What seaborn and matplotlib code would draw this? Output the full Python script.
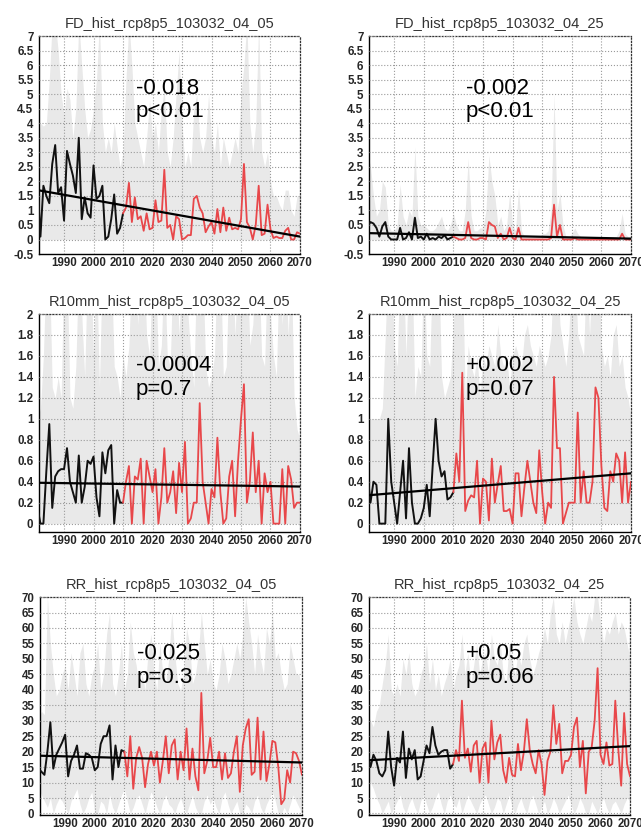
import numpy as np
import matplotlib
matplotlib.use("Agg")
import matplotlib.pyplot as plt
import seaborn as sns

# ----------------------------------------------------------
# DATA
# ----------------------------------------------------------

hist_years = list(range(1981, 2011))
proj_years = list(range(2011, 2071))
all_years = list(range(1981, 2071))

# FD 04_05
fd05_hist = [2.0, 0.1, 1.85, 1.5, 1.25, 2.6, 3.25, 1.6, 1.8, 0.65,
             3.05, 2.6, 2.2, 1.6, 3.5, 0.7, 1.45, 0.9, 0.75, 2.55,
             1.4, 1.5, 1.85, 0.0, 0.1, 0.7, 1.55, 0.2, 0.4, 0.9]
fd05_proj = [1.1, 1.95, 0.6, 1.45, 0.7, 0.8, 0.3, 0.9, 0.35, 0.4,
             1.35, 0.6, 0.65, 2.4, 0.4, 0.5, 0.0, 0.8, 0.7, 0.0,
             0.05, 0.15, 0.15, 1.4, 1.5, 1.1, 0.9, 0.25, 0.45, 0.6,
             0.2, 1.05, 0.25, 1.1, 0.3, 0.75, 0.35, 0.4, 0.35, 0.7,
             2.6, 0.6, 0.4, 0.0, 0.5, 1.85, 0.15, 0.2, 1.2, 0.35,
             0.05, 0.1, 0.05, 0.05, 0.3, 0.4, 0.0, 0.0, 0.25, 0.2]
fd05_hi = [2.2, 4.0, 3.9, 4.0, 5.5, 7.5, 7.5, 6.5, 5.0, 4.3,
           5.2, 4.8, 3.5, 4.5, 7.5, 6.0, 4.5, 3.5, 3.8, 4.5,
           5.5, 7.5, 4.0, 3.0, 3.5, 3.0, 4.0, 3.2, 2.5, 3.0,
           5.5, 7.5, 6.0, 4.0, 3.5, 3.0, 2.5, 3.5, 4.8, 3.5,
           4.0, 3.0, 4.5, 5.2, 3.0, 2.5, 3.5, 5.0, 6.5, 4.0,
           2.5, 3.0, 2.5, 4.5, 5.0, 3.5, 3.0, 3.5, 5.0, 3.5,
           3.0, 4.0, 2.5, 3.5, 3.0, 2.5, 3.0, 3.5, 3.0, 5.0,
           6.0, 7.5, 4.0, 3.0, 4.0, 7.5, 3.0, 2.5, 3.0, 2.0,
           1.5, 1.5, 1.2, 1.0, 1.7, 1.7, 1.0, 0.8, 1.5, 1.5]
fd05_lo = [0.0] * 90
fd05_trend = [1.70, 0.10]

# FD 04_25
fd25_hist = [0.45, 0.6, 0.55, 0.4, 0.1, 0.45, 0.6, 0.1, 0.0, 0.0,
             0.0, 0.4, 0.0, 0.05, 0.25, 0.0, 0.75, 0.05, 0.1, 0.0,
             0.2, 0.0, 0.05, 0.0, 0.1, 0.05, 0.15, 0.0, 0.05, 0.1]
fd25_proj = [0.05, 0.0, 0.0, 0.05, 0.6, 0.05, 0.0, 0.0, 0.05, 0.05,
             0.0, 0.6, 0.5, 0.45, 0.05, 0.2, 0.0, 0.05, 0.4, 0.05,
             0.0, 0.4, 0.0, 0.0, 0.0, 0.0, 0.0, 0.0, 0.0, 0.0,
             0.0, 0.0, 0.05, 1.2, 0.1, 0.5, 0.0, 0.0, 0.0, 0.0,
             0.05, 0.0, 0.0, 0.0, 0.0, 0.0, 0.0, 0.0, 0.0, 0.0,
             0.0, 0.0, 0.0, 0.0, 0.0, 0.0, 0.2, 0.0, 0.0, 0.0]
fd25_hi = [3.0, 2.5, 1.5, 0.8, 1.0, 2.0, 1.8, 0.5, 0.3, 0.3,
           0.5, 1.9, 0.8, 0.5, 1.0, 0.8, 3.2, 0.8, 0.5, 0.5,
           0.4, 0.3, 0.3, 0.4, 0.6, 0.8, 0.4, 0.3, 0.5, 0.9,
           0.5, 0.3, 0.3, 1.0, 2.8, 0.8, 0.3, 0.3, 0.4, 0.4,
           1.0, 2.9, 2.0, 1.5, 0.5, 0.8, 0.3, 0.5, 1.6, 0.5,
           0.3, 1.8, 0.3, 0.1, 0.1, 0.1, 0.1, 0.1, 0.1, 0.2,
           0.2, 0.3, 1.0, 5.0, 1.0, 1.6, 0.5, 0.1, 0.1, 0.2,
           0.4, 0.2, 0.1, 0.1, 0.1, 0.1, 0.1, 0.1, 0.1, 0.1,
           0.1, 0.1, 0.1, 0.1, 0.1, 0.3, 0.9, 0.2, 0.1, 0.1]
fd25_lo = [0.0] * 90
fd25_trend = [0.22, 0.03]

# R10mm 04_05
r10_05_hist = [0.15, 0.0, 0.0, 0.5, 0.95, 0.15, 0.45, 0.5, 0.52, 0.52,
               0.72, 0.4, 0.3, 0.2, 0.65, 0.2, 0.35, 0.6, 0.57, 0.64,
               0.25, 0.07, 0.68, 0.48, 0.7, 0.75, 0.0, 0.32, 0.2, 0.2]
r10_05_proj = [0.4, 0.55, 0.0, 0.45, 0.42, 0.62, 0.0, 0.6, 0.45, 0.3,
               0.52, 0.0, 0.25, 0.72, 0.2, 0.3, 0.5, 0.1, 0.58, 0.3,
               0.78, 0.0, 0.05, 0.2, 0.2, 1.15, 0.4, 0.2, 0.0, 0.33,
               0.25, 0.82, 0.3, 0.0, 0.05, 0.45, 0.6, 0.07, 0.6, 1.0,
               1.33, 0.2, 0.4, 0.87, 0.3, 0.6, 0.0, 0.48, 0.3, 0.4,
               0.0, 0.0, 0.0, 0.52, 0.0, 0.55, 0.42, 0.15, 0.2, 0.2]
r10_05_hi = [1.0, 1.1, 1.6, 2.5, 2.5, 1.3, 1.2, 1.4, 1.2, 2.5,
             2.5, 1.2, 1.1, 1.5, 2.5, 2.0, 1.4, 2.5, 2.5, 1.6,
             2.5, 1.3, 2.5, 2.5, 2.5, 2.5, 1.5, 1.4, 1.2, 1.6,
             1.4, 1.7, 2.5, 2.5, 1.9, 2.5, 2.5, 1.8, 1.6, 2.5,
             2.5, 1.5, 1.7, 2.5, 1.6, 1.5, 2.5, 2.5, 1.8, 2.5,
             2.5, 2.0, 1.6, 1.3, 2.5, 2.5, 2.5, 1.5, 1.3, 1.4,
             1.6, 2.5, 2.5, 1.4, 1.5, 2.5, 2.5, 1.8, 2.5, 2.5,
             2.5, 2.5, 1.7, 1.9, 2.5, 2.5, 1.6, 1.5, 2.5, 2.0,
             1.6, 1.4, 2.5, 1.9, 2.5, 1.8, 2.5, 1.2, 0.9, 0.8]
r10_05_lo = [0.0] * 90
r10_05_trend = [0.39, 0.354]

# R10mm 04_25
r10_25_hist = [0.47, 0.2, 0.4, 0.37, 0.0, 0.0, 0.0, 1.0, 0.4, 0.2,
               0.0, 0.3, 0.6, 0.05, 0.72, 0.2, 0.0, 0.0, 0.05, 0.15,
               0.37, 0.07, 0.55, 1.0, 0.6, 0.45, 0.5, 0.23, 0.25, 0.3]
r10_25_proj = [0.67, 0.4, 1.44, 0.12, 0.22, 0.27, 0.25, 0.6, 0.0, 0.43,
               0.4, 0.03, 0.62, 0.2, 0.38, 0.55, 0.12, 0.12, 0.14, 0.0,
               0.48, 0.48, 0.07, 0.35, 0.6, 0.4, 0.2, 0.1, 0.7, 0.3,
               0.0, 0.2, 0.15, 1.4, 0.72, 0.72, 0.0, 0.1, 0.2, 0.2,
               0.2, 1.06, 0.2, 0.5, 0.2, 0.2, 0.4, 1.3, 1.2, 0.55,
               0.15, 0.12, 0.5, 0.4, 0.67, 0.6, 0.2, 0.68, 0.2, 0.4]
r10_25_hi = [1.0, 1.0, 1.0, 1.0, 1.0, 1.1, 1.8, 2.5, 2.5, 1.7,
             1.5, 2.5, 2.5, 1.6, 2.5, 2.5, 1.2, 1.5, 1.4, 2.5,
             1.6, 1.5, 2.5, 2.5, 2.5, 1.4, 1.2, 1.3, 1.4, 1.9,
             2.5, 2.5, 2.5, 1.2, 1.7, 1.5, 1.4, 1.6, 1.2, 1.6,
             1.5, 1.7, 1.6, 1.5, 1.9, 1.6, 1.5, 1.6, 1.3, 1.6,
             1.7, 1.6, 1.5, 1.8, 1.9, 1.7, 1.6, 1.5, 1.7, 1.6,
             1.5, 1.6, 1.8, 2.5, 2.5, 1.9, 1.7, 1.5, 1.8, 2.5,
             2.5, 1.8, 1.7, 1.6, 2.5, 1.8, 2.5, 2.5, 2.5, 1.7,
             1.5, 1.6, 1.4, 1.8, 1.9, 1.5, 1.6, 1.3, 1.2, 1.0]
r10_25_lo = [0.0] * 90
r10_25_trend = [0.27, 0.48]

# RR 04_05
rr05_hist = [14.5, 13.5, 12.5, 20, 29.5, 14.5, 19, 21, 23, 25.5,
             12, 17, 19, 22, 14.5, 14.5, 19.5, 19, 18, 14,
             15, 22.5, 25, 25, 28.5, 11, 22, 15, 20.5, 20]
rr05_proj = [12, 25, 8, 18, 21.5, 18, 8.5, 16, 20, 15.5,
             20, 10, 17, 25, 13, 22, 24, 11, 20, 14,
             27.5, 11, 21, 12, 7.5, 39, 13, 17, 24.5, 15,
             15, 20, 11, 19.5, 11.5, 13, 20, 25, 7, 22,
             27.5, 30.5, 12.5, 13.5, 31, 11, 26.5, 10.5, 16, 23.5,
             23, 15, 3, 4.5, 14, 10, 20, 19.5, 17, 12.5]
rr05_hi = [31, 33, 32, 70, 55, 45, 38, 40, 45, 48,
           40, 52, 45, 38, 52, 55, 42, 38, 45, 48,
           55, 40, 45, 58, 65, 42, 38, 45, 55, 40,
           45, 62, 52, 48, 40, 45, 40, 52, 58, 45,
           40, 55, 45, 42, 50, 65, 52, 42, 40, 45,
           60, 55, 42, 45, 52, 65, 55, 45, 50, 42,
           40, 45, 55, 50, 42, 45, 50, 55, 50, 58,
           70, 62, 55, 45, 58, 50, 45, 60, 55, 65,
           50, 52, 45, 40, 42, 55, 50, 45, 45, 40]
rr05_lo = [8, 6, 4, 2, 5, 0, 3, 5, 4, 2,
           0, 4, 6, 8, 3, 0, 2, 5, 7, 0,
           0, 4, 3, 0, 6, 2, 0, 3, 6, 8,
           4, 0, 2, 5, 6, 3, 0, 4, 7, 5,
           2, 0, 4, 6, 3, 2, 0, 3, 5, 2,
           0, 3, 6, 2, 0, 0, 4, 6, 3, 5,
           2, 0, 5, 7, 3, 0, 2, 4, 0, 0,
           3, 2, 0, 4, 6, 2, 0, 3, 5, 7,
           4, 0, 0, 2, 0, 3, 6, 4, 2, 0]
rr05_trend = [18.7, 16.5]

# RR 04_25
rr25_hist = [19.5, 15, 19, 17, 13, 12, 14, 26.5, 15, 9,
             18, 16.5, 26.5, 11.5, 21, 17.5, 20.5, 11, 12, 17,
             22, 19.5, 28, 22, 19, 20, 20.5, 20.5, 14.5, 16]
rr25_proj = [20.5, 17, 36.5, 18, 21, 13.5, 22, 23.5, 10, 21,
             23, 10, 30, 17.5, 23, 25.5, 14, 10, 18, 12.5,
             12, 22.5, 14, 20, 30.5, 20.5, 16, 13, 20.5, 16,
             6, 17, 20, 35, 22.5, 29, 13, 17, 17, 19,
             28, 31, 15, 23.5, 6.5, 20, 21.5, 30, 47, 19,
             16, 23, 15.5, 16, 36.5, 21, 9, 32.5, 16, 12]
rr25_hi = [32, 30, 28, 33, 35, 42, 48, 58, 40, 38,
           42, 38, 50, 45, 52, 42, 38, 40, 45, 48,
           55, 42, 50, 40, 45, 38, 42, 45, 50, 40,
           45, 48, 58, 45, 52, 42, 48, 55, 45, 50,
           52, 45, 58, 50, 48, 55, 45, 42, 55, 50,
           45, 52, 48, 55, 58, 50, 45, 48, 52, 55,
           60, 55, 65, 70, 58, 55, 62, 55, 60, 65,
           70, 62, 58, 55, 60, 65, 62, 70, 70, 62,
           55, 60, 58, 62, 65, 58, 62, 60, 55, 50]
rr25_lo = [12, 10, 8, 5, 3, 0, 2, 4, 0, 2,
           4, 6, 2, 0, 3, 5, 2, 0, 4, 6,
           3, 0, 2, 5, 7, 3, 0, 4, 6, 3,
           2, 5, 0, 3, 6, 4, 2, 0, 3, 5,
           6, 3, 0, 2, 5, 4, 0, 3, 6, 2,
           0, 3, 5, 2, 0, 4, 6, 3, 0, 2,
           4, 0, 2, 5, 3, 0, 2, 4, 6, 3,
           0, 2, 5, 3, 0, 0, 4, 2, 0, 3,
           5, 2, 0, 3, 4, 2, 0, 3, 5, 4]
rr25_trend = [17.2, 21.8]

titles = ["FD_hist_rcp8p5_103032_04_05", "FD_hist_rcp8p5_103032_04_25",
          "R10mm_hist_rcp8p5_103032_04_05", "R10mm_hist_rcp8p5_103032_04_25",
          "RR_hist_rcp8p5_103032_04_05", "RR_hist_rcp8p5_103032_04_25"]
slope_labels = ["-0.018\np<0.01", "-0.002\np<0.01",
                "-0.0004\np=0.7", "+0.002\np=0.07",
                "-0.025\np=0.3", "+0.05\np=0.06"]

# ----------------------------------------------------------
# STYLE
# ----------------------------------------------------------

sns.set_style("white")
plt.rcParams['font.family'] = ['Liberation Sans', 'DejaVu Sans']

panels = [
    (fd05_hist, fd05_proj, fd05_lo, fd05_hi, fd05_trend),
    (fd25_hist, fd25_proj, fd25_lo, fd25_hi, fd25_trend),
    (r10_05_hist, r10_05_proj, r10_05_lo, r10_05_hi, r10_05_trend),
    (r10_25_hist, r10_25_proj, r10_25_lo, r10_25_hi, r10_25_trend),
    (rr05_hist, rr05_proj, rr05_lo, rr05_hi, rr05_trend),
    (rr25_hist, rr25_proj, rr25_lo, rr25_hi, rr25_trend),
]

ylims = [(-0.5, 7), (-0.5, 7), (-0.08, 2), (-0.08, 2), (-0.5, 70), (-0.5, 70)]
yticks = [np.arange(-0.5, 7.01, 0.5), np.arange(-0.5, 7.01, 0.5),
          np.arange(0, 2.01, 0.2), np.arange(0, 2.01, 0.2),
          np.arange(0, 70.1, 5), np.arange(0, 70.1, 5)]
text_y = [0.706, 0.706, 0.709, 0.709, 0.686, 0.686]

# axes boxes in figure fractions [left, bottom, width, height]
boxes = [
    [0.0608, 0.6943, 0.4072, 0.2623], [0.5757, 0.6943, 0.4087, 0.2623],
    [0.0608, 0.3598, 0.4072, 0.2623], [0.5757, 0.3598, 0.4087, 0.2623],
    [0.0624, 0.0192, 0.4087, 0.2623], [0.5757, 0.0192, 0.4072, 0.2623],
]

red = "#e8474a"
shade = "#e9e9e9"

fig = plt.figure(figsize=(6.41, 8.31), dpi=100)

for i, (hist, proj, lo, hi, trend) in enumerate(panels):
    ax = fig.add_axes(boxes[i])

    ax.fill_between(all_years, lo, hi, color=shade, lw=0, zorder=1)

    sns.lineplot(x=hist_years, y=hist, ax=ax, color="#111111", lw=1.4, zorder=3)
    sns.lineplot(x=[hist_years[-1]] + proj_years, y=[hist[-1]] + proj,
                 ax=ax, color=red, lw=1.3, zorder=3)
    sns.lineplot(x=[all_years[0], all_years[-1]], y=trend, ax=ax,
                 color="black", lw=1.6, zorder=4)

    ax.set_xlim(1981.5, 2070)
    ax.set_ylim(*ylims[i])
    ax.set_xticks(range(1990, 2071, 10))
    ax.set_yticks(yticks[i])
    ax.set_yticklabels([f"{v:g}" for v in yticks[i]])

    ax.grid(True, ls=":", color="#9a9a9a", lw=0.8, zorder=2)
    ax.set_axisbelow(False)
    ax.tick_params(axis="both", direction="out", length=3, width=1,
                   labelsize=8.3, pad=1, color="black")
    ax.tick_params(axis="x", length=2, pad=0)
    for lab in ax.get_xticklabels() + ax.get_yticklabels():
        lab.set_fontweight("bold")

    for side in ["left", "bottom"]:
        ax.spines[side].set_color("black")
        ax.spines[side].set_linewidth(1.0)
    for side in ["top", "right"]:
        ax.spines[side].set_color("#333333")
        ax.spines[side].set_linewidth(0.9)
        ax.spines[side].set_linestyle(":")

    ax.set_xlabel("")
    ax.set_ylabel("")
    ax.set_title(titles[i], fontsize=10.5, color="#333333", pad=6)

    ax.text(0.37, text_y[i], slope_labels[i], transform=ax.transAxes,
            fontsize=16, va="center", ha="left", color="black",
            linespacing=1.15, zorder=5)

fig.savefig("out.png", dpi=100)
